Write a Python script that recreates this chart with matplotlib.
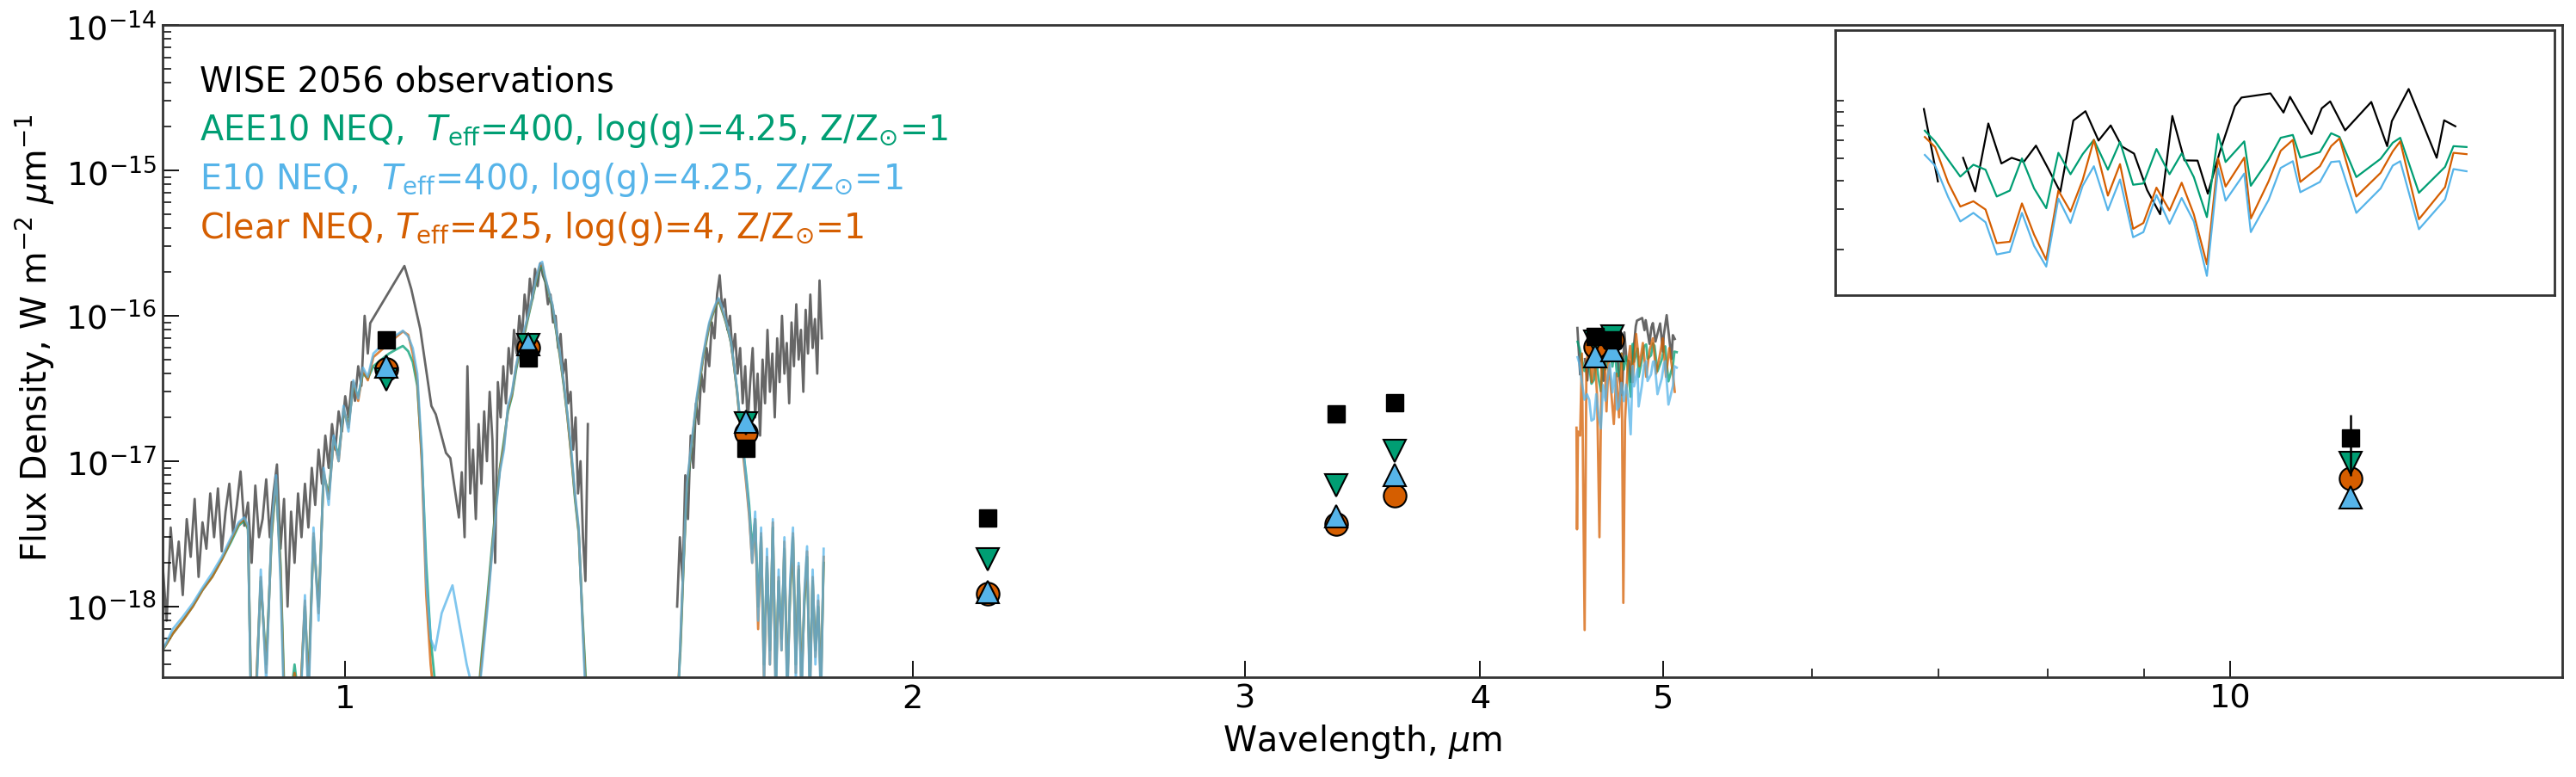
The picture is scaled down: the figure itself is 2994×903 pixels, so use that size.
import numpy as np
import matplotlib.pyplot as plt
from matplotlib.ticker import FixedLocator, NullFormatter, LogLocator, NullLocator

# spectral energy distribution of WISE 2056 vs three NEQ model atmospheres
# main panel: near-ir spectra + 4.5-5 um segment + photometry
# inset: zoom on the 4.5-5.1 um region

plt.rcParams["font.family"] = "DejaVu Sans"
plt.rcParams["mathtext.fontset"] = "dejavusans"
plt.rcParams["font.size"] = 28.5

c_green = "#009E73"
c_blue = "#56B4E9"
c_orange = "#D55E00"

# observed spectrum, Y+J segment (flux in 1e-18 W m-2 um-1)
obs_yj_wl = [0.800, 0.804, 0.808, 0.812, 0.816, 0.820, 0.824, 0.828, 0.832, 0.836, 0.840, 0.844, 0.848,
             0.852, 0.856, 0.860, 0.864, 0.868, 0.872, 0.876, 0.880, 0.884, 0.888, 0.892, 0.896, 0.900,
             0.904, 0.908, 0.912, 0.916, 0.920, 0.924, 0.928, 0.932, 0.936, 0.940, 0.944, 0.948,
             0.952, 0.956, 0.960, 0.964, 0.968, 0.972, 0.976, 0.980, 0.984, 0.988, 0.992, 0.996,
             1.000, 1.004, 1.008, 1.012, 1.016, 1.020, 1.024, 1.028, 1.031,
             1.075, 1.084, 1.096, 1.111, 1.117, 1.131, 1.137, 1.149,
             1.153, 1.157, 1.161, 1.165, 1.169, 1.173, 1.177, 1.181, 1.185,
             1.189, 1.193, 1.197, 1.201, 1.205, 1.209, 1.213, 1.217, 1.221,
             1.225, 1.229, 1.233, 1.237, 1.241, 1.245, 1.249, 1.253, 1.257, 1.261, 1.265, 1.269,
             1.273, 1.277, 1.281, 1.285, 1.289, 1.293, 1.297, 1.301, 1.305, 1.309,
             1.313, 1.317, 1.321, 1.325, 1.329, 1.333, 1.337, 1.341, 1.345]
obs_yj_fl = [2.0, 0.8, 3.5, 1.5, 2.8, 1.2, 4.0, 2.2, 5.5, 1.6, 3.8, 2.5, 6.0,
             3.0, 6.5, 2.4, 4.5, 7.0, 3.2, 5.0, 8.5, 3.6, 5.2, 2.0, 6.8, 3.0,
             4.0, 7.5, 3.0, 6.0, 9.5, 2.5, 5.5, 1.0, 4.5, 2.0, 6.0, 3.0,
             7.0, 3.5, 9.0, 5.0, 12, 7.0, 15, 9.0, 18, 12, 22, 16,
             28, 20, 35, 26, 45, 33, 100, 55, 89,
             220, 153, 81, 24, 21, 11.4, 10.5, 4.1,
             8.4, 3.0, 45, 6.0, 12, 4.0, 18, 7.0, 22,
             10, 30, 14, 2.0, 35, 20, 45, 25, 60,
             40, 80, 55, 100, 70, 140, 95, 180, 130, 210, 160, 230,
             190, 170, 120, 140, 90, 100, 60, 75, 40, 50,
             25, 30, 12, 20, 6.0, 10, 3.0, 1.5, 18]

# observed spectrum, H segment (1e-18)
obs_h_wl = [1.500, 1.505, 1.510, 1.515, 1.520, 1.525, 1.530, 1.535, 1.540, 1.545,
            1.550, 1.555, 1.560, 1.565, 1.570, 1.575, 1.580, 1.585, 1.590, 1.595,
            1.600, 1.605, 1.610, 1.615, 1.620, 1.625, 1.630, 1.635, 1.640, 1.645,
            1.650, 1.655, 1.660, 1.665, 1.670, 1.675, 1.680, 1.685, 1.690, 1.695,
            1.700, 1.705, 1.710, 1.715, 1.720, 1.725, 1.730, 1.735, 1.740, 1.745,
            1.750, 1.755, 1.760, 1.765, 1.770, 1.775, 1.780, 1.785, 1.790]
obs_h_fl = [1.0, 3.0, 1.5, 8, 4, 15, 9, 25, 18, 40,
            30, 60, 45, 90, 70, 140, 190, 110, 130, 80,
            100, 55, 75, 40, 60, 25, 45, 18, 35, 60,
            20, 40, 15, 50, 25, 80, 30, 55, 20, 70,
            35, 100, 40, 65, 25, 90, 45, 120, 50, 80,
            30, 110, 55, 140, 60, 95, 40, 175, 70]

# model spectra, Y+J segment (1e-18)
mod_yj_wl = [0.800, 0.810, 0.820, 0.830, 0.840, 0.850, 0.860, 0.870, 0.878, 0.884,
             0.888, 0.891, 0.896, 0.902, 0.908, 0.914, 0.919, 0.924, 0.928, 0.934,
             0.940, 0.946, 0.952, 0.956, 0.962, 0.968, 0.974, 0.980, 0.986, 0.992,
             0.998, 1.004, 1.010, 1.016, 1.022, 1.028, 1.035, 1.045, 1.055, 1.065,
             1.073, 1.080, 1.086, 1.092, 1.098, 1.104, 1.110, 1.116, 1.125, 1.140,
             1.160, 1.175, 1.182, 1.190, 1.196, 1.202, 1.208, 1.214, 1.220, 1.226,
             1.232, 1.238, 1.244, 1.250, 1.256, 1.262, 1.268, 1.272, 1.276, 1.282,
             1.288, 1.294, 1.300, 1.306, 1.312, 1.318, 1.324, 1.330, 1.336, 1.342,
             1.346]
aee10_yj = [0.5, 0.65, 0.8, 1.0, 1.3, 1.6, 2.1, 2.8, 3.6, 3.9,
            3.4, 0.3, 0.2, 1.5, 0.4, 3.0, 7.0, 2.0, 0.3, 0.2,
            0.4, 0.2, 1.0, 0.3, 3.0, 1.0, 8.0, 6.0, 14, 11,
            22, 18, 33, 28, 40, 37, 45, 50, 55, 59,
            62, 57, 48, 33, 11, 2.0, 0.6, 0.3, 0.2, 0.15,
            0.15, 0.2, 0.5, 1.2, 2.5, 5.0, 9.0, 14, 22, 28,
            42, 58, 72, 95, 125, 165, 210, 220, 180, 145,
            115, 78, 52, 33, 20, 11, 5.5, 3.2, 0.9, 0.3,
            0.2]
e10_yj = [0.5, 0.7, 0.85, 1.05, 1.35, 1.7, 2.2, 3.0, 3.8, 4.1,
          3.6, 0.25, 0.15, 1.8, 0.3, 3.5, 8.0, 1.5, 0.2, 0.15,
          0.3, 0.15, 1.2, 0.2, 3.5, 0.8, 9.0, 5.0, 15, 10,
          24, 16, 36, 27, 44, 38, 55, 62, 68, 74,
          79, 72, 60, 40, 12, 1.5, 0.6, 0.5, 0.9, 1.4,
          0.4, 0.2, 0.4, 1.0, 2.2, 4.5, 8.5, 12, 24, 30,
          45, 62, 78, 100, 130, 175, 225, 235, 190, 150,
          120, 82, 55, 35, 21, 12, 6.0, 3.5, 0.8, 0.2,
          0.15]
clear_yj = [0.5, 0.65, 0.8, 1.0, 1.3, 1.6, 2.1, 2.9, 3.7, 4.0,
            3.5, 0.3, 0.2, 1.6, 0.35, 3.2, 7.5, 1.8, 0.25, 0.2,
            0.35, 0.2, 1.1, 0.25, 3.2, 0.9, 8.5, 5.5, 14, 10,
            23, 17, 35, 26, 42, 36, 52, 58, 65, 72,
            78, 74, 55, 36, 10, 1.2, 0.4, 0.2, 0.3, 0.2,
            0.15, 0.2, 0.45, 1.1, 2.3, 4.8, 8.8, 13, 23, 29,
            44, 60, 75, 98, 128, 170, 218, 228, 185, 148,
            118, 80, 53, 34, 20, 11, 5.8, 3.3, 0.85, 0.25,
            0.2]

# model spectra, H segment (1e-18)
mod_h_wl = [1.500, 1.506, 1.512, 1.518, 1.524, 1.530, 1.536, 1.542, 1.548, 1.554,
            1.560, 1.566, 1.572, 1.578, 1.584, 1.590, 1.596, 1.602, 1.608, 1.614,
            1.620, 1.626, 1.632, 1.638, 1.644, 1.650, 1.656, 1.662, 1.668, 1.674,
            1.680, 1.686, 1.692, 1.698, 1.704, 1.710, 1.716, 1.722, 1.728, 1.734,
            1.740, 1.746, 1.752, 1.758, 1.764, 1.770, 1.776, 1.782, 1.788, 1.794]
aee10_h = [0.2, 0.5, 2.0, 6.5, 10, 16, 25, 35, 50, 65,
           85, 100, 115, 128, 110, 95, 80, 65, 45, 30,
           18, 12, 8.0, 5.0, 2.5, 4.0, 1.0, 3.0, 0.4, 2.0,
           0.5, 3.5, 0.3, 1.5, 0.6, 2.5, 0.3, 1.2, 3.0, 0.4,
           1.8, 0.3, 1.0, 2.2, 0.3, 1.5, 0.5, 1.0, 0.3, 2.0]
e10_h = [0.15, 0.6, 2.2, 7.0, 11, 17, 27, 38, 53, 70,
         90, 105, 120, 132, 115, 98, 82, 66, 46, 31,
         19, 12, 7.5, 4.5, 2.0, 4.5, 0.8, 3.5, 0.3, 2.5,
         0.4, 4.0, 0.2, 1.8, 0.5, 3.0, 0.2, 1.5, 3.5, 0.3,
         2.0, 0.2, 1.2, 2.6, 0.2, 1.8, 0.4, 1.2, 0.2, 2.5]
clear_h = [0.2, 0.55, 2.1, 6.8, 10.5, 16.5, 26, 36, 51, 67,
           87, 102, 117, 130, 112, 96, 81, 65, 45, 30,
           18, 11, 7.0, 4.2, 2.0, 4.0, 0.7, 3.2, 0.3, 2.2,
           0.4, 3.8, 0.25, 1.6, 0.5, 2.8, 0.25, 1.3, 3.2, 0.35,
           1.9, 0.25, 1.1, 2.4, 0.25, 1.6, 0.45, 1.1, 0.25, 2.2]

# 4.5-5.1 um segment (flux in 1e-17), also used for the inset
m_obs_wl = [4.505, 4.520, 4.533, 4.547, 4.560, 4.574, 4.588, 4.599, 4.612, 4.625,
            4.638, 4.651, 4.665, 4.678, 4.692, 4.705, 4.717, 4.730, 4.744, 4.758,
            4.771, 4.784, 4.798, 4.809, 4.822, 4.838, 4.845, 4.876, 4.890, 4.897,
            4.920, 4.931, 4.940, 4.956, 4.984, 5.001, 5.006, 5.024, 5.054, 5.062,
            5.074]
m_obs_fl = [8.25, 3.97, np.nan, 5.04, 3.59, 7.13, 4.76, 5.04, 4.84, 5.70,
            4.53, 3.57, 7.34, 8.07, 6.0, 6.99, 5.65, 5.26, 3.64, 2.85,
            7.69, 4.91, 4.90, 3.51, 5.38, 8.48, 9.26, 9.66, 7.96, 9.33,
            6.41, 8.31, 8.91, 6.65, 8.86, 5.67, 7.30, 10.1, 5.04, 7.36,
            6.93]
m_mod_wl = [4.506, 4.517, 4.531, 4.544, 4.558, 4.571, 4.583, 4.597, 4.610, 4.623,
            4.636, 4.649, 4.662, 4.675, 4.687, 4.702, 4.715, 4.729, 4.740, 4.754,
            4.768, 4.781, 4.794, 4.808, 4.820, 4.828, 4.848, 4.855, 4.874, 4.887,
            4.900, 4.908, 4.929, 4.941, 4.950, 4.968, 4.994, 5.007, 5.015, 5.035,
            5.063, 5.072, 5.086]
aee10_m = [6.63, 5.95, 4.94, 4.17, 4.70, 4.47, 3.41, 3.62, 5.01, 3.70,
           3.03, 5.30, 4.27, 5.23, 6.04, 4.47, 5.92, 3.84, 3.89, 5.51,
           4.27, 5.27, 4.15, 2.77, 6.41, 4.83, 5.95, 3.80, 4.94, 6.17,
           6.35, 5.05, 5.34, 6.46, 6.22, 4.15, 4.99, 5.87, 6.17, 3.54,
           4.60, 5.67, 5.62]
e10_m = [5.19, 4.66, 3.39, 2.65, 2.89, 2.63, 1.90, 1.95, 2.89, 2.07,
         1.68, 3.34, 2.61, 3.80, 4.63, 2.97, 4.05, 2.26, 2.38, 3.46,
         2.59, 3.36, 2.65, 1.53, 4.53, 3.27, 4.30, 2.38, 3.29, 4.55,
         4.87, 3.56, 3.95, 4.83, 4.87, 2.89, 3.70, 4.66, 4.87, 2.45,
         3.31, 4.50, 4.40]
clear_m = [6.22, 5.62, 3.92, 3.08, 3.25, 2.99, 2.13, 2.16, 3.18, 2.32,
           1.80, 3.62, 2.93, 4.03, 6.04, 3.44, 4.73, 2.46, 2.61, 3.73,
           2.96, 3.92, 2.85, 1.72, 5.01, 3.77, 5.05, 2.73, 3.97, 5.41,
           6.04, 3.95, 4.63, 5.67, 6.13, 3.41, 4.33, 5.38, 5.95, 2.71,
           3.75, 5.30, 5.23]
# full resolution clear model in the main panel (deep absorption lines)
clear_m_hr_wl = [4.500, 4.503, 4.508, 4.520, 4.530, 4.545, 4.555, 4.570, 4.585, 4.600,
                 4.615, 4.628, 4.640, 4.655, 4.668, 4.680, 4.695, 4.710, 4.725, 4.740,
                 4.755, 4.765, 4.775, 4.790, 4.805, 4.820, 4.840, 4.860, 4.880, 4.900,
                 4.920, 4.940, 4.960, 4.980, 5.000, 5.020, 5.040, 5.060, 5.074]
clear_m_hr = [1.7, 0.34, 1.6, 1.5, 5.5, 0.069, 4.8, 6.2, 3.5, 5.5,
              2.8, 0.30, 4.5, 6.0, 2.2, 5.0, 3.0, 1.8, 4.0, 2.0,
              5.5, 0.106, 1.9, 4.5, 6.2, 3.5, 7.5, 4.5, 6.5, 3.8,
              5.8, 7.0, 4.0, 5.2, 7.0, 3.8, 6.0, 4.2, 3.0]

# photometry (flux in 1e-17)
phot_wl = [1.051, 1.251, 1.632, 2.191, 3.355, 3.605, 4.603, 4.704, 11.58]
phot_obs = [6.86, 5.15, 1.22, 0.405, 2.12, 2.54, 7.18, 6.81, 1.44]
phot_err = [0.0, 0.0, 0.0, 0.0, 0.12, 0.0, 0.0, 0.0, 0.65]
phot_aee10 = [3.66, 6.3, 1.83, 0.212, 0.683, 1.17, 6.6, 7.18, 0.97]
phot_e10 = [4.46, 6.41, 1.87, 0.126, 0.419, 0.807, 5.27, 5.81, 0.562]
phot_clear = [4.30, 6.04, 1.57, 0.122, 0.372, 0.579, 6.12, 6.8, 0.762]

labels = ["WISE 2056 observations",
          r"AEE10 NEQ,  $T_{\rm eff}$=400, log(g)=4.25, Z/Z$_{\odot}$=1",
          r"E10 NEQ,  $T_{\rm eff}$=400, log(g)=4.25, Z/Z$_{\odot}$=1",
          r"Clear NEQ, $T_{\rm eff}$=425, log(g)=4, Z/Z$_{\odot}$=1"]
label_colors = ["black", c_green, c_blue, c_orange]

e18 = 1e-18
e17 = 1e-17

fig = plt.figure(figsize=(29.94, 9.04), dpi=100)
ax = fig.add_axes([0.0631, 0.1283, 0.9315, 0.8385])

lw = 2.0
# observed spectra
ax.plot(obs_yj_wl, np.array(obs_yj_fl) * e18, color="k", alpha=0.6, lw=lw, zorder=1)
ax.plot(obs_h_wl, np.array(obs_h_fl) * e18, color="k", alpha=0.6, lw=lw, zorder=1)
ax.plot(m_obs_wl, np.array(m_obs_fl) * e17, color="k", alpha=0.6, lw=lw, zorder=1)

# models
for wl, fl, sc in [(mod_yj_wl, aee10_yj, e18), (mod_h_wl, aee10_h, e18), (m_mod_wl, aee10_m, e17)]:
    ax.plot(wl, np.array(fl) * sc, color=c_green, alpha=0.75, lw=lw, zorder=2)
for wl, fl, sc in [(mod_yj_wl, clear_yj, e18), (mod_h_wl, clear_h, e18), (clear_m_hr_wl, clear_m_hr, e17)]:
    ax.plot(wl, np.array(fl) * sc, color=c_orange, alpha=0.75, lw=lw, zorder=2)
for wl, fl, sc in [(mod_yj_wl, e10_yj, e18), (mod_h_wl, e10_h, e18), (m_mod_wl, e10_m, e17)]:
    ax.plot(wl, np.array(fl) * sc, color=c_blue, alpha=0.75, lw=lw, zorder=2)

# photometry
ms = 19
ax.plot(phot_wl, np.array(phot_clear) * e17, "o", ms=ms, mfc=c_orange, mec="k", mew=1.5, zorder=4)
ax.plot(phot_wl, np.array(phot_aee10) * e17, "v", ms=ms, mfc=c_green, mec="k", mew=1.5, zorder=5)
ax.plot(phot_wl, np.array(phot_e10) * e17, "^", ms=ms, mfc=c_blue, mec="k", mew=1.5, zorder=6)
ax.errorbar(phot_wl, np.array(phot_obs) * e17, yerr=np.array(phot_err) * e17, fmt="s",
            ms=14, color="k", elinewidth=1.8, capsize=0, zorder=7)

ax.set_xscale("log")
ax.set_yscale("log")
ax.set_xlim(0.8, 15.0)
ax.set_ylim(3.27e-19, 1e-14)

ax.xaxis.set_major_locator(FixedLocator([1, 2, 3, 4, 5, 10]))
ax.set_xticklabels(["1", "2", "3", "4", "5", "10"])
ax.xaxis.set_minor_locator(FixedLocator([6, 7, 8, 9]))
ax.xaxis.set_minor_formatter(NullFormatter())
# only the decades inside the view get a label
ax.yaxis.set_major_locator(FixedLocator([1e-18, 1e-17, 1e-16, 1e-15, 1e-14]))
ax.yaxis.set_minor_locator(LogLocator(base=10, subs=np.arange(2, 10), numticks=30))
ax.yaxis.set_minor_formatter(NullFormatter())

ax.tick_params(which="major", direction="in", length=14, width=1.3, pad=5, labelsize=27.5)
ax.tick_params(which="minor", direction="in", length=7, width=1.1)
for s in ax.spines.values():
    s.set_linewidth(2)
    s.set_color("#333333")

ax.set_xlabel(r"Wavelength, $\mu$m")
ax.set_ylabel(r"Flux Density, W m$^{-2}$ $\mu$m$^{-1}$")
ax.xaxis.set_label_coords(0.5, -0.068)
ax.yaxis.set_label_coords(-0.044, 0.521)

# coloured legend text
ys = [0.899, 0.8245, 0.7493, 0.6741]
for txt, col, y in zip(labels, label_colors, ys):
    ax.text(0.0155, y, txt, color=col, transform=ax.transAxes, va="baseline", ha="left")

# inset
axins = fig.add_axes([0.7124, 0.6195, 0.2792, 0.3407])
axins.plot(m_obs_wl, np.array(m_obs_fl) * e17, color="k", lw=1.6)
axins.plot(m_mod_wl, np.array(aee10_m) * e17, color=c_green, lw=1.6)
axins.plot(m_mod_wl, np.array(clear_m) * e17, color=c_orange, lw=1.6)
axins.plot(m_mod_wl, np.array(e10_m) * e17, color=c_blue, lw=1.6)
axins.set_yscale("log")
axins.set_xlim(4.41, 5.18)
axins.set_ylim(1.26e-17, 1.83e-16)
axins.set_xticks([])
axins.yaxis.set_major_locator(NullLocator())
axins.yaxis.set_minor_locator(LogLocator(base=10, subs=np.arange(2, 10), numticks=30))
axins.yaxis.set_minor_formatter(NullFormatter())
axins.tick_params(which="minor", direction="in", length=7, width=1.1)
for s in axins.spines.values():
    s.set_linewidth(2)
    s.set_color("#333333")

fig.savefig("out.png", dpi=100)
